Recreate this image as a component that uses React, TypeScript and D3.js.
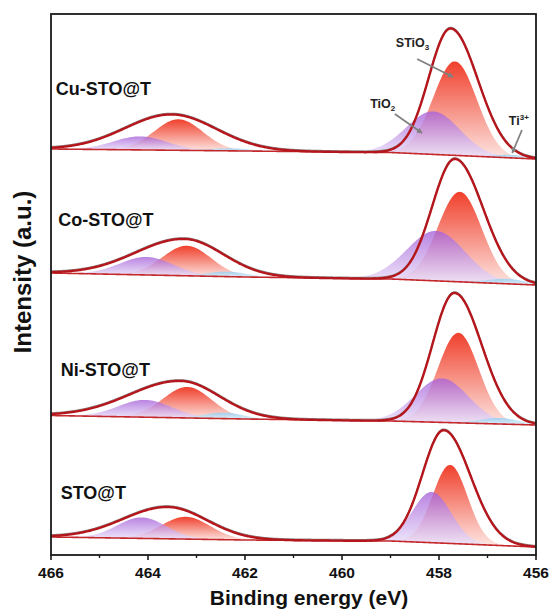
import React, { useEffect, useRef } from "react";
import * as d3 from "d3";

type Pt = [number, number];
// [species, centre (eV), height (a.u.), sigma (eV)]
type Peak = [string, number, number, number];
// [centre (eV), height, sigma on high-BE side, sigma on low-BE side]
type Env = [number, number, number, number];

const W = 549;
const H = 616;
const margin = { top: 14, right: 13, bottom: 61, left: 51 };

const xTicks = [466, 464, 462, 460, 458, 456];
const xMinorTicks = [465, 463, 461, 459, 457];

const sampleNames = ["Cu-STO@T", "Co-STO@T", "Ni-STO@T", "STO@T"];
const sampleLabelAt: Pt[] = [[465.9, 460], [465.85, 329], [465.8, 179], [465.8, 56]];

// Shirley-type backgrounds, [binding energy, intensity]
const cuBackground: Pt[] = [[466, 406], [462, 404], [459, 402.5], [456, 396]];
const coBackground: Pt[] = [[466, 282], [462, 278], [459, 276], [456, 270]];
const niBackground: Pt[] = [[466, 139.5], [462, 136], [459, 134], [456, 130]];
const stoBackground: Pt[] = [[466, 18], [462, 15], [459, 14], [456, 8]];

// fitted components
const cuPeaks: Peak[] = [
  ["STiO3", 457.67, 94, 0.45],
  ["TiO2", 458.12, 43, 0.55],
  ["Ti3+", 456.5, 3, 0.35],
  ["STiO3", 463.37, 31, 0.5],
  ["TiO2", 464.16, 13.5, 0.55],
  ["Ti3+", 462.3, 2.5, 0.4],
];
const coPeaks: Peak[] = [
  ["STiO3", 457.57, 90, 0.45],
  ["TiO2", 458.06, 50, 0.6],
  ["Ti3+", 456.6, 5, 0.4],
  ["STiO3", 463.2, 30, 0.5],
  ["TiO2", 464.03, 18, 0.55],
  ["Ti3+", 462.36, 5, 0.4],
];
const niPeaks: Peak[] = [
  ["STiO3", 457.6, 90, 0.42],
  ["TiO2", 457.94, 44, 0.55],
  ["Ti3+", 456.75, 6, 0.4],
  ["STiO3", 463.19, 31, 0.5],
  ["TiO2", 464.06, 17.3, 0.55],
  ["Ti3+", 462.43, 6, 0.4],
];
const stoPeaks: Peak[] = [
  ["STiO3", 457.77, 78.5, 0.36],
  ["TiO2", 458.15, 50.7, 0.4],
  ["STiO3", 463.22, 22.3, 0.5],
  ["TiO2", 464.13, 21, 0.5],
];

// envelope of the measured spectrum
const cuEnvelope: Env[] = [[457.76, 126.7, 0.45, 0.56], [463.51, 35.8, 0.96, 0.92]];
const coEnvelope: Env[] = [[457.67, 122.7, 0.47, 0.58], [463.25, 36.8, 1.0, 0.8]];
const niEnvelope: Env[] = [[457.68, 129.8, 0.45, 0.56], [463.33, 36.9, 1.05, 0.8]];
const stoEnvelope: Env[] = [[457.9, 113, 0.44, 0.55], [463.59, 31.8, 0.92, 0.8]];

// annotations on the top spectrum
const annoText = ["STiO", "TiO", "Ti"];
const annoScript = ["3", "2", "3+"];
const annoAt: Pt[] = [[458.89, 508], [459.42, 447], [456.56, 430]];
const arrowFrom: Pt[] = [[458.45, 496], [458.91, 441], [456.29, 425]];
const arrowTo: Pt[] = [[457.71, 478], [458.35, 422], [456.49, 402]];

const panels = [
  { bg: cuBackground, peaks: cuPeaks, env: cuEnvelope },
  { bg: coBackground, peaks: coPeaks, env: coEnvelope },
  { bg: niBackground, peaks: niPeaks, env: niEnvelope },
  { bg: stoBackground, peaks: stoPeaks, env: stoEnvelope },
];

const fillOf: Record<string, string> = {
  STiO3: "url(#g-red)",
  TiO2: "url(#g-purple)",
  "Ti3+": "url(#g-blue)",
};
const opacityOf: Record<string, number> = { STiO3: 1, TiO2: 0.78, "Ti3+": 0.85 };

const FONT = "'Liberation Sans', Arial, sans-serif";

const App = () => {
  const ref = useRef<SVGSVGElement>(null);

  useEffect(() => {
    const svg = d3.select(ref.current);
    svg.selectAll("*").remove();

    const x = d3.scaleLinear().domain([466, 456]).range([margin.left, W - margin.right]);
    const y = d3.scaleLinear().domain([0, 541]).range([H - margin.bottom, margin.top]);

    const defs = svg.append("defs");
    const grad = (id: string, top: string, bottom: string) => {
      const g = defs.append("linearGradient").attr("id", id).attr("x1", 0).attr("y1", 0).attr("x2", 0).attr("y2", 1);
      g.append("stop").attr("offset", "0%").attr("stop-color", top);
      g.append("stop").attr("offset", "100%").attr("stop-color", bottom);
    };
    grad("g-red", "#f0402c", "#fde6e2");
    grad("g-purple", "#a660d8", "#ebe4fb");
    grad("g-blue", "#96cef0", "#e2f2fb");

    defs
      .append("marker")
      .attr("id", "arrow")
      .attr("viewBox", "0 0 10 10")
      .attr("refX", 9)
      .attr("refY", 5)
      .attr("markerWidth", 3.2)
      .attr("markerHeight", 3.2)
      .attr("orient", "auto")
      .append("path")
      .attr("d", "M0,0 L10,5 L0,10 z")
      .attr("fill", "#808080");

    const grid = d3.range(456, 466.0001, 0.02);

    panels.forEach((p) => {
      const bg = d3.scaleLinear().domain(p.bg.map((d) => d[0])).range(p.bg.map((d) => d[1]));
      const gauss = (e: number, c: number, h: number, s: number) => h * Math.exp(-((e - c) ** 2) / (2 * s * s));
      const env = (e: number) =>
        bg(e) + d3.sum(p.env, (v) => gauss(e, v[0], v[1], e > v[0] ? v[2] : v[3]));

      const g = svg.append("g");
      const order = ["STiO3", "TiO2", "Ti3+"];
      order.forEach((name) => {
        p.peaks
          .filter((pk) => pk[0] === name)
          .forEach((pk) => {
            const [, c, h, s] = pk;
            const pts = grid.filter((e) => e >= c - 3.5 * s && e <= c + 3.5 * s);
            const area = d3
              .area<number>()
              .x((e) => x(e))
              .y0((e) => y(bg(e)))
              .y1((e) => y(bg(e) + gauss(e, c, h, s)));
            g.append("path")
              .attr("d", area(pts))
              .attr("fill", fillOf[name])
              .attr("fill-opacity", opacityOf[name]);
          });
      });

      // background
      g.append("path")
        .attr("d", d3.line<number>().x((e) => x(e)).y((e) => y(bg(e)))(grid))
        .attr("fill", "none")
        .attr("stroke", "#c4282a")
        .attr("stroke-width", 1.6);

      // raw data trace
      g.append("path")
        .attr("d", d3.line<number>().x((e) => x(e)).y((e) => y(env(e)) - 1.2)(grid))
        .attr("fill", "none")
        .attr("stroke", "#8a8a8a")
        .attr("stroke-width", 1.2);

      // envelope
      g.append("path")
        .attr("d", d3.line<number>().x((e) => x(e)).y((e) => y(env(e)))(grid))
        .attr("fill", "none")
        .attr("stroke", "#b5161c")
        .attr("stroke-width", 2.4);
    });

    // sample labels
    sampleNames.forEach((name, i) => {
      svg
        .append("text")
        .attr("x", x(sampleLabelAt[i][0]))
        .attr("y", y(sampleLabelAt[i][1]))
        .attr("font-family", FONT)
        .attr("font-weight", "bold")
        .attr("font-size", 18)
        .attr("fill", "#111")
        .text(name);
    });

    // annotations
    annoText.forEach((t, i) => {
      svg
        .append("line")
        .attr("x1", x(arrowFrom[i][0]))
        .attr("y1", y(arrowFrom[i][1]))
        .attr("x2", x(arrowTo[i][0]))
        .attr("y2", y(arrowTo[i][1]))
        .attr("stroke", "#808080")
        .attr("stroke-width", 1.8)
        .attr("marker-end", "url(#arrow)");
      const txt = svg
        .append("text")
        .attr("x", x(annoAt[i][0]))
        .attr("y", y(annoAt[i][1]))
        .attr("font-family", FONT)
        .attr("font-weight", "bold")
        .attr("font-size", 12.5)
        .attr("fill", "#222");
      txt.append("tspan").text(t);
      const isSup = annoScript[i].includes("+");
      txt
        .append("tspan")
        .attr("font-size", 8)
        .attr("dy", isSup ? -5 : 3)
        .text(annoScript[i]);
    });

    // frame
    svg
      .append("rect")
      .attr("x", margin.left)
      .attr("y", margin.top)
      .attr("width", W - margin.left - margin.right)
      .attr("height", H - margin.top - margin.bottom)
      .attr("fill", "none")
      .attr("stroke", "#1a1a1a")
      .attr("stroke-width", 1.8);

    const xAxis = svg.append("g").attr("transform", `translate(0,${H - margin.bottom})`);
    xAxis
      .selectAll("line.major")
      .data(xTicks)
      .join("line")
      .attr("class", "major")
      .attr("x1", (d) => x(d))
      .attr("x2", (d) => x(d))
      .attr("y1", 0)
      .attr("y2", 5)
      .attr("stroke", "#1a1a1a")
      .attr("stroke-width", 1.6);
    xAxis
      .selectAll("line.minor")
      .data(xMinorTicks)
      .join("line")
      .attr("class", "minor")
      .attr("x1", (d) => x(d))
      .attr("x2", (d) => x(d))
      .attr("y1", 0)
      .attr("y2", 3)
      .attr("stroke", "#1a1a1a")
      .attr("stroke-width", 1.4);
    xAxis
      .selectAll("text")
      .data(xTicks)
      .join("text")
      .attr("x", (d) => x(d))
      .attr("y", 23)
      .attr("text-anchor", "middle")
      .attr("font-family", FONT)
      .attr("font-weight", "bold")
      .attr("font-size", 15.5)
      .attr("fill", "#111")
      .text((d) => d);

    svg
      .append("text")
      .attr("x", 309)
      .attr("y", 605)
      .attr("text-anchor", "middle")
      .attr("font-family", FONT)
      .attr("font-weight", "bold")
      .attr("font-size", 21)
      .attr("fill", "#111")
      .text("Binding energy (eV)");

    svg
      .append("text")
      .attr("transform", `translate(31,272) rotate(-90)`)
      .attr("text-anchor", "middle")
      .attr("font-family", FONT)
      .attr("font-weight", "bold")
      .attr("font-size", 24)
      .attr("fill", "#111")
      .text("Intensity (a.u.)");
  }, []);

  return (
    <svg
      ref={ref}
      width={W}
      height={H}
      style={{ position: "absolute", left: 0, top: 0, background: "#fff" }}
    />
  );
};

export default App;
